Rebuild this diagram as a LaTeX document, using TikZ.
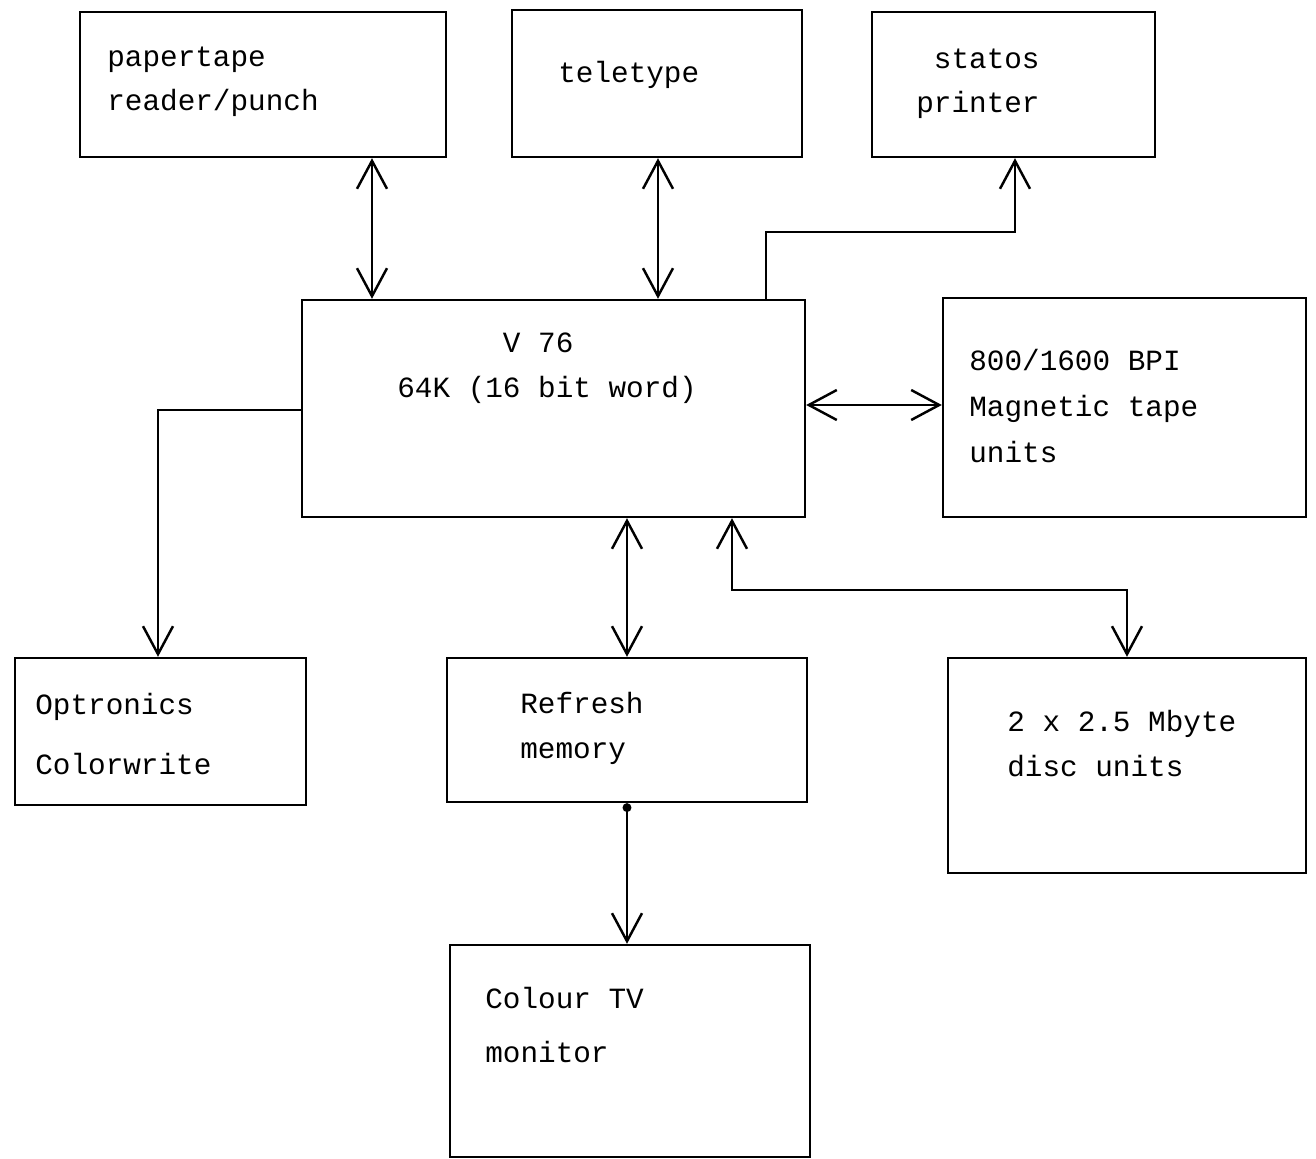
\documentclass[tikz,border=0pt]{standalone}
\usepackage{fontspec}
\setmainfont{Liberation Mono}
\usetikzlibrary{arrows.meta}

\begin{document}
\begin{tikzpicture}[x=0.02cm,y=-0.02cm,
	box/.style={draw,line width=1.4pt,inner sep=0pt},
	lbl/.style={inner sep=0pt,align=left,font=\fontsize{16.7}{25.6}\selectfont},
	both/.style={line width=1.4pt,{Straight Barb[length=5.6mm,width=6mm]}-{Straight Barb[length=5.6mm,width=6mm]}},
	one/.style={line width=1.4pt,-{Straight Barb[length=5.6mm,width=6mm]}}]
\useasboundingbox (0,0) rectangle (1316,1159);
% boxes
\node[box,minimum width=7.32cm,minimum height=2.9cm] (ptape) at (263,84.5) {};
\node[box,minimum width=5.8cm,minimum height=2.94cm] (tty) at (657,83.5) {};
\node[box,minimum width=5.66cm,minimum height=2.9cm] (statos) at (1013.5,84.5) {};
\node[box,minimum width=10.06cm,minimum height=4.34cm] (cpu) at (553.5,408.5) {};
\node[box,minimum width=7.26cm,minimum height=4.38cm] (tape) at (1124.5,407.5) {};
\node[box,minimum width=5.82cm,minimum height=2.94cm] (optr) at (160.5,731.5) {};
\node[box,minimum width=7.2cm,minimum height=2.88cm] (refr) at (627,730) {};
\node[box,minimum width=7.16cm,minimum height=4.3cm] (disc) at (1127,765.5) {};
\node[box,minimum width=7.2cm,minimum height=4.24cm] (tv) at (630,1051) {};
% texts
\node[lbl,anchor=west] (ptapetxt) at (107,82) {papertape\\[-0.6pt]reader/punch};
\node[lbl,anchor=west] (ttytxt) at (558,75) {teletype};
\node[lbl,anchor=west] (statostxt) at (916,84) {\phantom{x}statos\\[-0.6pt]printer};
\node[lbl,anchor=west] (cputxt) at (397,368) {\phantom{xxxxxx}V 76\\64K (16 bit word)};
\node[lbl,anchor=west] (tapetxt) at (969,406) {800/1600 BPI\\[0.6pt]Magnetic tape\\[0.6pt]units};
\node[lbl,anchor=west] (optrtxt) at (35,734) {Optronics\\[9.1pt]Colorwrite};
\node[lbl,anchor=west] (refrtxt) at (520,728) {Refresh\\memory};
\node[lbl,anchor=west] (disctxt) at (1007,744) {2 x 2.5 Mbyte\\disc units};
\node[lbl,anchor=west] (tvtxt) at (485,1025) {Colour TV\\[5.1pt]monitor};
% connectors
\draw[both] (ptape.south -| 372,0) -- (cpu.north -| 372,0);
\draw[both] (tty.south -| 658,0) -- (cpu.north -| 658,0);
\draw[one] (cpu.north -| 766,0) -- (766,232) -| (statos.south -| 1015,0);
\draw[both] (cpu.east |- 0,405) -- (tape.west |- 0,405);
\draw[one] (cpu.west |- 0,410) -| (optr.north -| 158,0);
\draw[both] (cpu.south -| refr.north) -- (refr.north);
\draw[both] (cpu.south -| 732,0) -- (732,590) -| (disc.north);
\draw[line width=1.4pt,{Circle[length=5pt]}-{Straight Barb[length=5.6mm,width=6mm]}] (refr.south) -- (refr.south |- tv.north);
\end{tikzpicture}
\end{document}
